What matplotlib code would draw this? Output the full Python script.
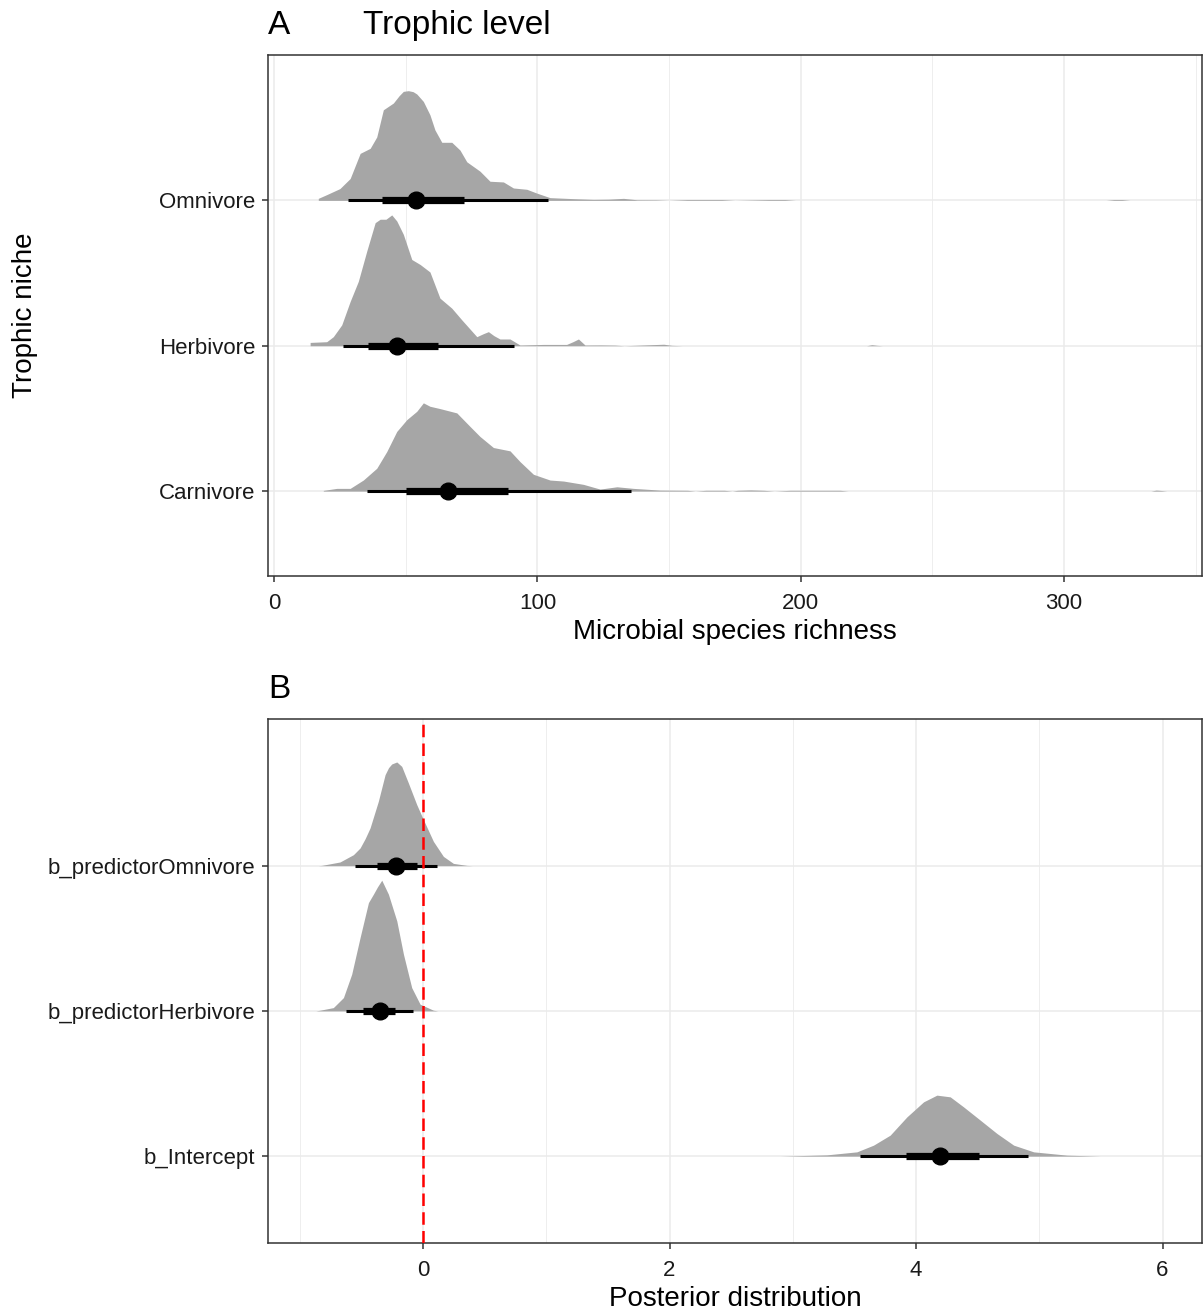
import numpy as np
import matplotlib
matplotlib.use('Agg')
import matplotlib.pyplot as plt
from matplotlib.ticker import MultipleLocator

plt.rcParams['font.family'] = ['Liberation Sans', 'DejaVu Sans']

# ---- panel A: posterior of species richness per trophic niche ----
nichos = ['Carnivore', 'Herbivore', 'Omnivore']

carn_x = [18.7, 23.8, 28.9, 33.9, 39, 42.8, 46.6, 50.4, 54.2, 56.7, 59.2, 63, 69.4, 74.4,
          78.2, 83.3, 89.6, 93.4, 98.5, 104.8, 109.9, 117.5, 123.8, 130.2, 136.5, 146.6,
          157, 160, 164, 171, 174, 176, 181, 186, 190, 196, 215, 218, 333, 335, 337, 339]
carn_d = [0.7, 2.7, 2.7, 11, 22.7, 39.3, 59.3, 71, 79.3, 87.7, 84.3, 82, 77.7, 64.3,
          54.3, 43.3, 40, 29.3, 16.7, 11, 10, 6.7, 2, 4.3, 2.7, 1,
          0.8, 0, 0.8, 0.8, 0, 0.8, 1.2, 0.8, 0, 0.8, 0.8, 0, 0, 1, 0.6, 0]

herb_x = [13.7, 20, 22.5, 25.7, 28.9, 32, 35.2, 38.4, 40.3, 42.5, 44.7, 46.6, 49.1, 52.3,
          55.5, 59.2, 63, 67.5, 71.3, 77, 79.5, 81.4, 83.5, 85.8, 89.6, 93.4, 102.3,
          111.1, 113.5, 115.6, 118.1, 124, 129.5, 133, 141, 148, 151, 155, 225, 227, 229, 231]
herb_d = [3.3, 4, 9, 20.7, 44, 64, 94, 122.3, 125.7, 125.7, 130, 124, 110.7, 85.7,
          80.7, 73.3, 47.3, 37.3, 25.7, 9, 12, 14, 10, 6.7, 6.7, 0.7, 1.3,
          1.3, 4, 6.7, 0.7, 0.8, 0.6, 0, 0.8, 1.5, 0.4, 0, 0, 1, 0.4, 0]

omni_x = [16.8, 20, 25, 28.9, 32.7, 36.5, 39, 41.5, 45.3, 47.5, 49.1, 51, 52.8, 54.2, 56.7,
          59.2, 61.1, 63.7, 67.5, 70.6, 73.2, 78.2, 82, 87.1, 90.9, 96, 99.7, 104.8, 113.7,
          121.3, 127, 132.7, 137.8, 145, 150, 157, 170, 175, 188, 194, 198, 316, 319, 322, 325]
omni_d = [2, 5.7, 11.7, 21.7, 46.7, 51.7, 63, 90, 96.7, 104, 108.3, 109, 108, 105.7, 98.3,
          85, 70, 57.7, 57.7, 50, 38.3, 29, 19, 18.3, 12.3, 11, 7.3, 2.7, 1.7,
          1, 1.2, 2, 0.6, 0.5, 0, 0.8, 0.8, 0, 0.8, 0.8, 0, 0, 0.8, 0.8, 0]

# thin lo, thick lo, median, thick hi, thin hi
carn_int = [35.4, 50.0, 66.2, 89.0, 135.5]
herb_int = [26.3, 35.5, 46.6, 62.4, 91.2]
omni_int = [28.2, 40.9, 53.8, 72.2, 104.2]

# ---- panel B: model coefficients ----
coefs = ['b_Intercept', 'b_predictorHerbivore', 'b_predictorOmnivore']

int_x = [2.898, 3.277, 3.52, 3.655, 3.79, 3.926, 4.061, 4.169, 4.277, 4.385, 4.521,
         4.656, 4.792, 4.954, 5.225, 5.495]
int_d = [0, 1.3, 4.3, 11, 21, 39.3, 54.3, 61, 59.3, 49.3, 36, 22.7, 11, 4.3, 1, 0]

bherb_x = [-0.87, -0.836, -0.728, -0.646, -0.579, -0.511, -0.443, -0.403, -0.37, -0.335,
           -0.281, -0.213, -0.159, -0.092, -0.024, 0.084, 0.12]
bherb_d = [0, 0.7, 3.3, 13.3, 36.7, 73.3, 108.3, 116.7, 124, 130.7,
           116.7, 90, 56.7, 23.3, 6.7, 0.7, 0]

bomni_x = [-0.85, -0.822, -0.674, -0.565, -0.511, -0.47, -0.43, -0.363, -0.308, -0.28,
           -0.254, -0.213, -0.173, -0.119, -0.051, 0.003, 0.084, 0.165, 0.246, 0.355, 0.4]
bomni_d = [0, 0.3, 3.7, 11, 17.7, 27, 37.7, 64.3, 91, 98,
           101.7, 103.7, 99.3, 82.7, 61, 46, 24.3, 9.3, 2.3, 0.3, 0]

int_int = [3.542, 3.917, 4.197, 4.507, 4.908]
bherb_int = [-0.625, -0.485, -0.349, -0.227, -0.078]
bomni_int = [-0.552, -0.376, -0.219, -0.051, 0.111]

GRIS = '#A6A6A6'
BORDE = '#333333'
TXT = '#1a1a1a'


def halfeye(ax, dens, ints):
    # dens: list of (x, d) per row, scaled so the tallest slab is 0.9 of a row
    top = max(max(d) for _, d in dens)
    for i, ((x, d), it) in enumerate(zip(dens, ints)):
        y0 = i + 1
        h = np.array(d) / top * 0.9
        ax.fill_between(x, y0, y0 + h, color=GRIS, lw=0, zorder=2)
        ax.plot([it[0], it[4]], [y0, y0], color='black', lw=2.2,
                solid_capstyle='butt', zorder=3)
        ax.plot([it[1], it[3]], [y0, y0], color='black', lw=5.2,
                solid_capstyle='butt', zorder=3)
        ax.plot(it[2], y0, 'o', color='black', ms=12, zorder=4)


def estilo(ax, labels):
    ax.set_yticks(range(1, len(labels) + 1))
    ax.set_yticklabels(labels)
    ax.grid(which='major', color='#EBEBEB', lw=1.1)
    ax.grid(which='minor', axis='x', color='#EBEBEB', lw=0.6)
    ax.set_axisbelow(True)
    for s in ax.spines.values():
        s.set_color(BORDE)
        s.set_linewidth(1.1)
    ax.tick_params(which='major', length=4.5, width=1.1, color=BORDE,
                   labelsize=16, labelcolor=TXT)
    ax.tick_params(axis='y', pad=4.5)
    ax.tick_params(axis='x', pad=7.5)
    ax.tick_params(which='minor', length=0)


fig = plt.figure(figsize=(12.03, 13.12), dpi=100)

axA = fig.add_axes([268 / 1203, 1 - 576 / 1312, 934 / 1203, 521 / 1312])
halfeye(axA, [(carn_x, carn_d), (herb_x, herb_d), (omni_x, omni_d)],
        [carn_int, herb_int, omni_int])
axA.set_xlim(-2.3, 352.4)
axA.set_ylim(0.416, 4.0)
axA.xaxis.set_major_locator(MultipleLocator(100))
axA.xaxis.set_minor_locator(MultipleLocator(50))
estilo(axA, nichos)
axA.set_xlabel('Microbial species richness', fontsize=20, color='black', labelpad=4)

axB = fig.add_axes([268 / 1203, 1 - 1243 / 1312, 934 / 1203, 524 / 1312])
halfeye(axB, [(int_x, int_d), (bherb_x, bherb_d), (bomni_x, bomni_d)],
        [int_int, bherb_int, bomni_int])
axB.axvline(0, color='#FF0000', lw=1.8, ls=(0, (5, 2.5)), zorder=5)
axB.set_xlim(-1.258, 6.32)
axB.set_ylim(0.402, 4.01)
axB.xaxis.set_major_locator(MultipleLocator(2))
axB.xaxis.set_minor_locator(MultipleLocator(1))
estilo(axB, coefs)
axB.set_xlabel('Posterior distribution', fontsize=20, color='black', labelpad=4)

# tags, title and y label
fig.text(268 / 1203, 1 - 34 / 1312, 'A', fontsize=24, va='baseline', ha='left')
fig.text(363 / 1203, 1 - 34 / 1312, 'Trophic level', fontsize=24, va='baseline', ha='left')
fig.text(268 / 1203, 1 - 698 / 1312, 'B', fontsize=24, va='baseline', ha='left')
fig.text(25 / 1203, 1 - 315 / 1312, 'Trophic niche', fontsize=20, rotation=90,
         va='center', ha='center')

fig.savefig('out.png', dpi=100, facecolor='white')
